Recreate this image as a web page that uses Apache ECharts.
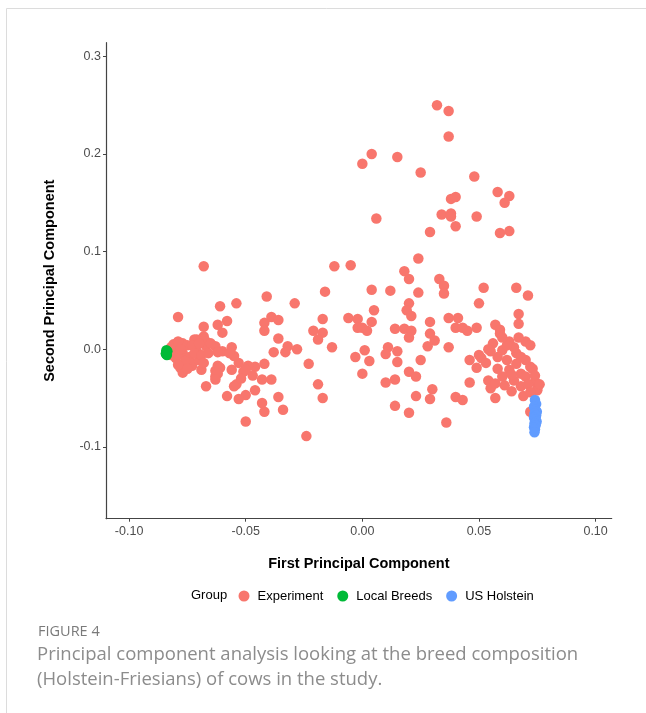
<!DOCTYPE html>
<html>
<head>
<meta charset="utf-8">
<script src="https://cdn.jsdelivr.net/npm/echarts@6/dist/echarts.min.js"></script>
<style>
html,body{margin:0;padding:0;background:#fff;}
#chart{width:646px;height:713px;}
</style>
</head>
<body>
<div id="chart"></div>
<script>
// ---- Data ----
const groups = ['Experiment', 'Local Breeds', 'US Holstein'];
const xTicks = [-0.10, -0.05, 0.00, 0.05, 0.10];
const yTicks = [-0.1, 0.0, 0.1, 0.2, 0.3];

const experiment = [
  [0.032,0.250],[0.037,0.244],[0.037,0.218],[0.004,0.200],[0.000,0.190],[0.015,0.197],
  [0.025,0.181],[0.048,0.177],[0.058,0.161],[0.063,0.157],[0.061,0.150],[0.038,0.154],
  [0.040,0.156],[0.006,0.134],[0.034,0.138],[0.038,0.139],[0.038,0.136],[0.049,0.136],
  [0.040,0.126],[0.029,0.120],[0.059,0.119],[0.063,0.121],[0.024,0.093],
  [-0.068,0.085],[-0.012,0.085],[-0.005,0.086],[-0.041,0.054],[-0.016,0.059],[-0.029,0.047],
  [-0.061,0.044],[-0.054,0.047],[-0.079,0.033],[-0.017,0.031],[-0.006,0.032],[-0.002,0.031],
  [-0.062,0.025],[-0.058,0.029],[-0.060,0.017],[-0.068,0.023],[-0.042,0.027],[-0.039,0.033],
  [-0.036,0.030],[-0.042,0.019],[-0.036,0.011],[-0.021,0.019],[-0.017,0.017],[-0.019,0.010],
  [-0.013,0.002],[-0.002,0.022],[-0.028,0.000],[-0.032,0.003],[-0.033,-0.003],[-0.038,-0.003],
  [-0.003,-0.008],[-0.023,-0.015],[-0.019,-0.036],[-0.017,-0.050],[-0.024,-0.089],[-0.050,-0.074],
  [-0.034,-0.062],[-0.042,-0.064],[-0.043,-0.055],[-0.036,-0.049],[-0.046,-0.042],[-0.050,-0.047],
  [-0.053,-0.051],[-0.058,-0.048],[-0.055,-0.038],[-0.054,-0.036],[-0.067,-0.038],[-0.043,-0.031],
  [-0.039,-0.031],[-0.042,-0.015],[-0.046,-0.018],[-0.047,-0.027],[-0.049,-0.017],[-0.051,-0.023],
  [-0.053,-0.014],[-0.056,-0.021],[-0.055,-0.007],[-0.056,0.002],[-0.060,-0.002],[-0.063,0.003],
  [-0.062,-0.003],[-0.067,0.003],[-0.068,0.013],[-0.071,0.010],[-0.062,-0.017],[-0.063,-0.028],
  [-0.063,-0.022],[-0.069,-0.021],[-0.077,-0.024],[-0.078,-0.019],[-0.073,-0.017],
  [-0.077,0.006],[-0.072,0.010],[-0.067,0.008],[-0.057,-0.004],[-0.061,-0.019],[-0.062,-0.025],
  [-0.063,-0.031],[-0.080,-0.002],[-0.080,-0.009],[-0.077,-0.004],[-0.074,-0.008],[-0.071,-0.002],
  [-0.070,-0.011],[-0.075,0.004],[-0.074,-0.014],[-0.052,-0.030],[-0.050,-0.021],
  [-0.082,0.002],[-0.082,-0.006],[-0.081,0.005],[-0.079,0.008],[-0.079,-0.005],[-0.078,0.000],
  [-0.076,-0.012],[-0.073,0.004],[-0.072,-0.004],[-0.069,-0.006],[-0.066,-0.004],[-0.065,0.006],
  [-0.070,0.006],[-0.075,-0.020],[-0.068,-0.014],[-0.079,-0.016],
  [0.018,0.080],[0.020,0.072],[0.033,0.072],[0.035,0.065],[0.035,0.057],[0.004,0.061],
  [0.012,0.060],[0.024,0.058],[0.052,0.063],[0.066,0.063],[0.071,0.055],[0.050,0.047],
  [0.020,0.047],[0.019,0.040],[0.021,0.034],[0.005,0.040],[0.004,0.028],[0.000,0.022],
  [0.002,0.019],[0.014,0.021],[0.018,0.021],[0.021,0.019],[0.020,0.012],[0.029,0.028],
  [0.029,0.016],[0.031,0.009],[0.028,0.003],[0.037,0.032],[0.041,0.032],[0.040,0.022],
  [0.043,0.022],[0.045,0.019],[0.049,0.022],[0.037,0.002],[0.067,0.036],[0.067,0.026],
  [0.057,0.025],[0.059,0.020],[0.011,0.002],[0.010,-0.005],[0.015,-0.002],[0.015,-0.013],
  [0.025,-0.011],[0.001,-0.001],[0.003,-0.012],[0.000,-0.025],[0.020,-0.023],[0.023,-0.028],
  [0.014,-0.031],[0.010,-0.034],[0.030,-0.041],[0.029,-0.051],[0.023,-0.048],[0.040,-0.049],
  [0.043,-0.052],[0.014,-0.058],[0.020,-0.065],[0.036,-0.075],[0.046,-0.034],[0.046,-0.011],
  [0.050,-0.006],[0.049,-0.019],[0.054,-0.032],[0.055,-0.040],[0.057,-0.050],[0.069,-0.048],
  [0.064,-0.043],
  [0.059,0.016],[0.056,0.006],[0.063,0.008],[0.070,0.008],[0.072,0.004],[0.060,-0.001],
  [0.066,-0.004],[0.058,-0.008],[0.051,-0.009],[0.053,-0.014],[0.062,-0.011],[0.070,-0.011],
  [0.072,-0.018],[0.063,-0.021],[0.068,-0.025],[0.060,-0.028],[0.070,-0.028],[0.074,-0.033],
  [0.061,-0.037],[0.068,-0.038],[0.075,-0.040],[0.075,-0.042],[0.072,-0.064],
  [0.065,0.002],[0.068,-0.008],[0.073,-0.020],[0.074,-0.027],[0.066,-0.015],[0.058,-0.020],
  [0.055,-0.002],[0.062,0.004],[0.071,-0.036],[0.076,-0.036],[0.065,-0.032],[0.057,-0.035],
  [0.060,0.012],[0.067,0.012],[0.054,0.000],[0.064,-0.026],[0.072,-0.044]
];

const localBreeds = [
  [-0.0840,-0.001],[-0.0840,-0.003],[-0.0842,-0.005],[-0.0838,-0.006],[-0.0842,-0.004],[-0.0836,-0.002]
];

const usHolstein = [
  [0.0740,-0.052],[0.0745,-0.056],[0.0736,-0.059],[0.0742,-0.062],[0.0748,-0.064],[0.0738,-0.066],
  [0.0745,-0.068],[0.0736,-0.070],[0.0742,-0.072],[0.0747,-0.074],[0.0738,-0.076],[0.0743,-0.078],
  [0.0736,-0.080],[0.0740,-0.082],[0.0738,-0.085]
];

const colors = ['#F8766D', '#00BA38', '#619CFF'];

// ---- Chart ----
const chart = echarts.init(document.getElementById('chart'), null, {renderer: 'canvas'});
const axisFont = 'Liberation Sans, Arial, sans-serif';

const option = {
  backgroundColor: '#ffffff',
  animation: false,
  grid: {left: 106, right: 34.3, top: 42.7, bottom: 194.3, containLabel: false},
  xAxis: {
    type: 'value',
    min: -0.1099, max: 0.1069,
    name: 'First Principal Component',
    nameLocation: 'middle',
    nameGap: 38,
    nameTextStyle: {fontFamily: axisFont, fontSize: 14.5, fontWeight: 'bold', color: '#000'},
    axisLine: {show: true, onZero: false, lineStyle: {color: '#444', width: 1.2}},
    axisTick: {show: true, length: 3, customValues: xTicks, lineStyle: {color: '#444', width: 1}},
    axisLabel: {customValues: xTicks, margin: 6, fontFamily: axisFont, fontSize: 12.5, color: '#4d4d4d',
      formatter: v => v.toFixed(2)},
    splitLine: {show: false}
  },
  yAxis: {
    type: 'value',
    min: -0.1736, max: 0.314,
    name: 'Second Principal Component',
    nameLocation: 'middle',
    nameGap: 49,
    nameTextStyle: {fontFamily: axisFont, fontSize: 14.5, fontWeight: 'bold', color: '#000'},
    axisLine: {show: true, onZero: false, lineStyle: {color: '#444', width: 1.2}},
    axisTick: {show: true, length: 3, customValues: yTicks, lineStyle: {color: '#444', width: 1}},
    axisLabel: {customValues: yTicks, margin: 5, fontFamily: axisFont, fontSize: 12.5, color: '#4d4d4d',
      formatter: v => v.toFixed(1)},
    splitLine: {show: false}
  },
  legend: {
    data: groups,
    left: 238.5, top: 589.5,
    padding: 0,
    icon: 'circle',
    itemWidth: 11, itemHeight: 11,
    itemGap: 14,
    textStyle: {fontFamily: axisFont, fontSize: 13, color: '#000', padding: [0,0,0,3]}
  },
  series: [
    {name: groups[0], type: 'scatter', data: experiment, symbolSize: 10.5, itemStyle: {color: colors[0], opacity: 1}},
    {name: groups[1], type: 'scatter', data: localBreeds, symbolSize: 10.5, itemStyle: {color: colors[1], opacity: 1}},
    {name: groups[2], type: 'scatter', data: usHolstein, symbolSize: 10.5, itemStyle: {color: colors[2], opacity: 1}}
  ],
  graphic: [
    {type: 'rect', shape: {x: 6.5, y: 8.5, width: 700, height: 720}, style: {fill: 'none', stroke: '#dcdcdc', lineWidth: 1}, silent: true},
    {type: 'text', x: 191, y: 595.5, style: {text: 'Group', font: '13px ' + axisFont, fill: '#000', verticalAlign: 'middle'}},
    {type: 'text', x: 38, y: 632, style: {text: 'FIGURE 4', font: '14.5px "Open Sans", sans-serif', fill: '#7a7a7a', verticalAlign: 'middle'}},
    {type: 'text', left: 37, top: 642, style: {text: 'Principal component analysis looking at the breed composition\n(Holstein-Friesians) of cows in the study.', font: '18.5px "Open Sans", sans-serif', fill: '#8c8c8c', lineHeight: 25}}
  ]
};
chart.setOption(option);
</script>
</body>
</html>
